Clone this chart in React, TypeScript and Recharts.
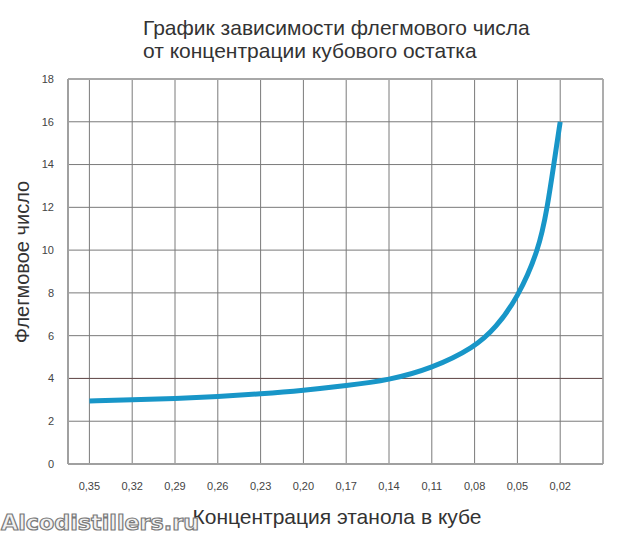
import React from "react";
import {
  LineChart,
  Line,
  XAxis,
  YAxis,
  CartesianGrid,
  ReferenceLine,
} from "recharts";

// концентрация этанола в кубе (ось X, убывает слева направо)
const concentrations = [
  0.35, 0.32, 0.29, 0.26, 0.23, 0.2, 0.17, 0.14, 0.11, 0.08, 0.05, 0.02,
];
// флегмовое число в узлах сетки
const refluxRatio = [
  2.95, 3.0, 3.06, 3.15, 3.28, 3.44, 3.66, 3.92, 4.47, 5.45, 7.75, 16.0,
];
const extraConcentrations = [0.065, 0.035, 0.029, 0.0245];
const extraReflux = [6.38, 10.0, 12.0, 14.0];

const yTicks = [0, 2, 4, 6, 8, 10, 12, 14, 16, 18];
const xTicks = [...concentrations, -0.01];

const titleLines = [
  "График зависимости флегмового числа",
  "от концентрации кубового остатка",
];

const data = [
  ...concentrations.map((c, i) => ({ c, r: refluxRatio[i] })),
  ...extraConcentrations.map((c, i) => ({ c, r: extraReflux[i] })),
].sort((a, b) => b.c - a.c);

const FONT = "'Liberation Sans', Arial, sans-serif";

const fmt = (v: number) => (v > 0 ? v.toFixed(2).replace(".", ",") : "");

export default function App() {
  return (
    <div
      style={{
        position: "absolute",
        left: 0,
        top: 0,
        width: 632,
        height: 539,
        background: "#fff",
        fontFamily: FONT,
      }}
    >
      <LineChart
        width={632}
        height={539}
        data={data}
        margin={{ top: 79, right: 29, left: 8, bottom: 45 }}
      >
        <CartesianGrid stroke="#7a7a7a" strokeWidth={1} />
        <XAxis
          dataKey="c"
          type="number"
          domain={[-0.01, 0.365]}
          reversed
          ticks={xTicks}
          tickFormatter={fmt}
          interval={0}
          height={30}
          stroke="#a0a0a0"
          strokeWidth={2}
          tickLine={false}
          tickSize={8}
          tickMargin={10}
          tick={{ fill: "#444", fontSize: 11, fontFamily: FONT }}
          allowDataOverflow
        />
        <YAxis
          type="number"
          domain={[0, 18]}
          ticks={yTicks}
          width={60}
          stroke="#a0a0a0"
          strokeWidth={2}
          tickLine={false}
          tickSize={8}
          tickMargin={6}
          tick={{ fill: "#444", fontSize: 11, fontFamily: FONT }}
        />
        <ReferenceLine y={4} stroke="#6a5050" strokeWidth={1} />
        <ReferenceLine y={18} stroke="#a8a8a8" strokeWidth={2} />
        <ReferenceLine x={-0.01} stroke="#a8a8a8" strokeWidth={1.5} />
        <Line
          type="basis"
          dataKey="r"
          stroke="#1896c8"
          strokeWidth={5}
          dot={false}
          activeDot={false}
          isAnimationActive={false}
        />
      </LineChart>
      <svg
        width={632}
        height={539}
        style={{ position: "absolute", left: 0, top: 0, pointerEvents: "none" }}
      >
        <text x={143} y={35} fontSize={21} fill="#333" fontFamily={FONT}>
          {titleLines[0]}
        </text>
        <text x={143} y={58} fontSize={21} fill="#333" fontFamily={FONT}>
          {titleLines[1]}
        </text>
        <text
          x={22}
          y={262}
          fontSize={20}
          fill="#333"
          fontFamily={FONT}
          textAnchor="middle"
          dominantBaseline="central"
          transform="rotate(-90 22 262)"
        >
          Флегмовое число
        </text>
        <text
          x={337}
          y={524}
          fontSize={21}
          fill="#333"
          fontFamily={FONT}
          textAnchor="middle"
        >
          Концентрация этанола в кубе
        </text>
        <text
          x={1}
          y={530}
          fontSize={22}
          fontWeight="bold"
          fill="#f2f2f2"
          stroke="#7a7a7a"
          strokeWidth={1.2}
          fontFamily="'DejaVu Sans', sans-serif"
          textLength={198}
          lengthAdjust="spacingAndGlyphs"
        >
          Alcodistillers.ru
        </text>
      </svg>
    </div>
  );
}
